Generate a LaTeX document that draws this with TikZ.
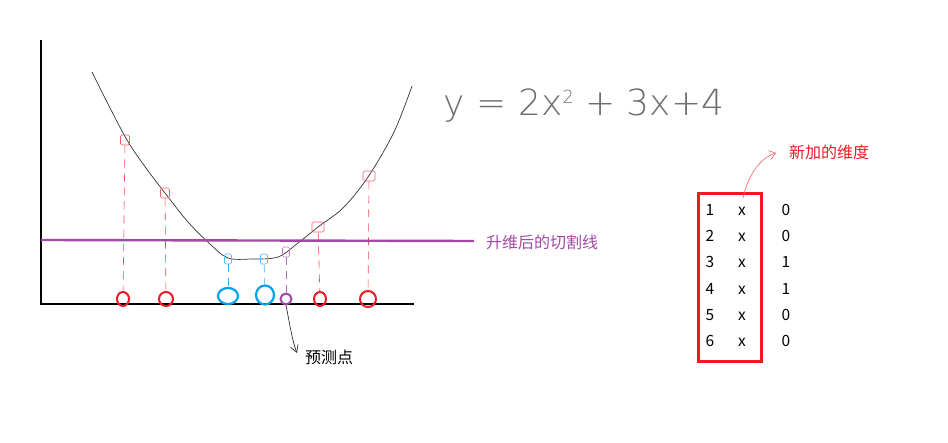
\documentclass[tikz,border=0pt]{standalone}
\usepackage{fontspec}
\setmainfont{Noto Sans CJK SC}
\newfontfamily\eqfont{DejaVu Sans ExtraLight}
\usetikzlibrary{arrows.meta,shapes.geometric}
\definecolor{myred}{RGB}{237,28,36}
\definecolor{myblue}{RGB}{0,162,232}
\definecolor{mypurple}{RGB}{163,73,164}
\definecolor{eqgray}{RGB}{110,110,110}
\tikzset{
  axis/.style={line width=2.6pt,black},
  redpt/.style={draw=myred,line width=2pt,ellipse,inner sep=0pt,minimum width=12pt,minimum height=14pt},
  bluept/.style={draw=myblue,line width=2.2pt,ellipse,inner sep=0pt,minimum width=20pt,minimum height=16pt},
  purppt/.style={draw=mypurple,line width=2pt,circle,inner sep=0pt,minimum size=11pt},
  mark redm/.style={draw=myred!70,line width=0.6pt,inner sep=0pt,minimum width=9pt,minimum height=10pt,rounded corners=1.5pt},
  mark bluem/.style={draw=myblue!70,line width=0.6pt,inner sep=0pt,minimum width=7pt,minimum height=10pt,rounded corners=1.5pt},
  mark purpm/.style={draw=mypurple!70,line width=0.6pt,inner sep=0pt,minimum width=7pt,minimum height=10pt,rounded corners=1.5pt},
  dashr/.style={myred!80,line width=0.6pt,dash pattern=on 8pt off 6pt},
  dashb/.style={myblue!80,line width=0.6pt,dash pattern=on 8pt off 6pt},
  dashp/.style={mypurple!80,line width=0.6pt,dash pattern=on 8pt off 6pt},
  cell/.style={font=\fontsize{15.5}{15.5}\selectfont,inner sep=0pt,anchor=base},
  lbl/.style={font=\fontsize{16}{16}\selectfont,anchor=west,inner sep=0pt}
}
\begin{document}
\begin{tikzpicture}[x=1pt,y=-1pt]
\useasboundingbox[fill=white] (0,0) rectangle (948,443);
% axes
\coordinate (ytop) at (41,40);
\coordinate (orig) at (41,304);
\coordinate (xend) at (414,304);
\draw[axis] (ytop) -- (orig) -- (xend);
% curve
\draw[black!80,line width=0.7pt] plot[smooth,tension=0.55] coordinates {(92,72) (106,100) (127,140) (146,168) (165,193) (188,222) (210,244) (228,258) (252,259) (278,257) (298,243) (318,227) (343,208) (368,177) (394,132) (412,86)};
% markers on curve
\node[mark redm] (m1) at (125,140) {};
\node[mark redm] (m2) at (165,193) {};
\node[mark bluem] (m3) at (228,259) {};
\node[mark bluem] (m4) at (264,259) {};
\node[mark purpm] (m5) at (286,252) {};
\node[mark redm,minimum width=12pt] (m6) at (318,227) {};
\node[mark redm,minimum width=12pt] (m7) at (369,176) {};
% points on x axis
\node[redpt] (p1) at (123,299) {};
\node[redpt,minimum width=14pt] (p2) at (166,299) {};
\node[bluept] (p3) at (228,296) {};
\node[bluept,minimum width=18pt,minimum height=19pt] (p4) at (265,295) {};
\node[purppt] (p5) at (286,299) {};
\node[redpt] (p6) at (320,299) {};
\node[redpt,minimum width=16pt,minimum height=16pt] (p7) at (368,299) {};
% projections
\draw[dashr] (m1) -- (p1);
\draw[dashr] (m2) -- (p2);
\draw[dashb] (m3) -- (p3);
\draw[dashb] (m4) -- (p4);
\draw[dashp] (m5) -- (p5);
\draw[dashr] (m6) -- (p6);
\draw[dashr] (m7) -- (p7);
% cutting line
\coordinate (cl1) at (41,240);
\coordinate (cl2) at (474,241);
\draw[mypurple,line width=2.4pt] (cl1) -- (cl2);
\node[mypurple,lbl] (cutlabel) at (486,242) {升维后的切割线};
% prediction arrow
\node[lbl] (pred) at (305,357) {预测点};
\coordinate (predtip) at (297,353);
\draw[black!80,line width=0.7pt,-{Straight Barb[length=7pt,width=8pt]}] (p5.south) .. controls (290,325) and (292,340) .. (predtip);
% equation
\node[eqgray,font=\eqfont\fontsize{36}{36}\selectfont] (eq) at (584,106) {y = 2x\raisebox{12pt}{\fontsize{18}{18}\selectfont 2} + 3x+4};
% table box
\node[draw=myred,line width=2.4pt,minimum width=63pt,minimum height=168pt,inner sep=0pt] (box) at (730,277.5) {};
\foreach \i/\v [count=\k] in {1/0,2/0,3/1,4/1,5/0,6/0}{
  \node[cell] (n\k) at (710,{189+26.3*\k}) {\i};
  \node[cell] (x\k) at (742,{189+26.3*\k}) {x};
  \node[cell] (v\k) at (786,{189+26.3*\k}) {\v};
}
\node[myred,lbl] (newdim) at (789,152) {新加的维度};
\coordinate (arrtip) at (776,153);
\draw[myred!70,line width=0.6pt,-{Straight Barb[length=6pt,width=9pt]}] (743,198) .. controls (748,175) and (760,158) .. (arrtip);
\end{tikzpicture}
\end{document}
